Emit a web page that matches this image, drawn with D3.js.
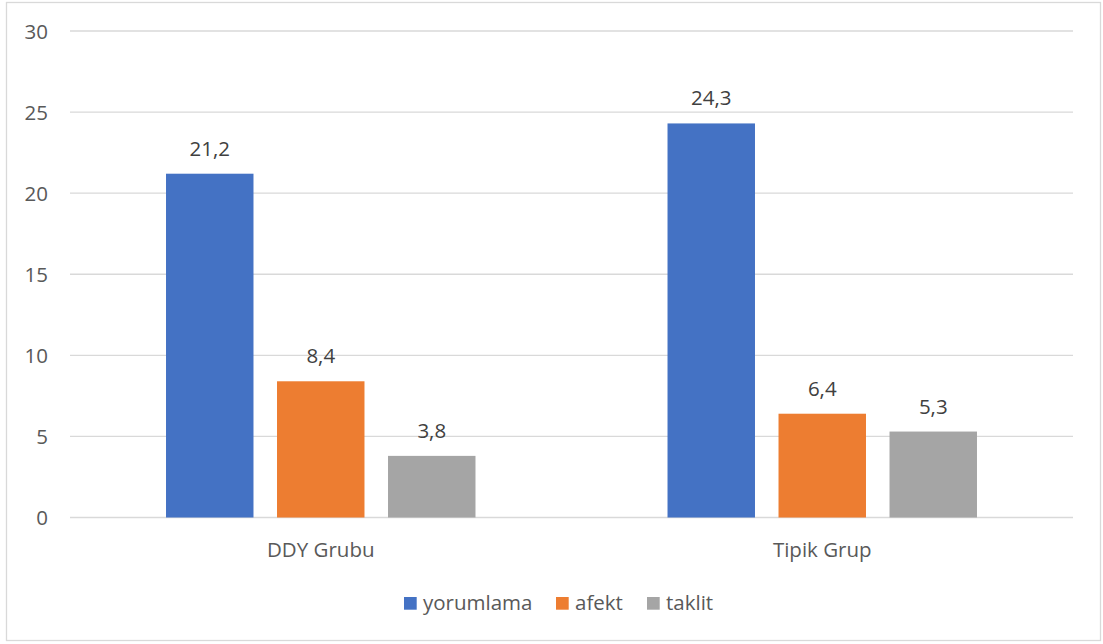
<!DOCTYPE html>
<html>
<head>
<meta charset="utf-8">
<script src="https://cdn.jsdelivr.net/npm/d3@7"></script>
<style>
  html, body { margin: 0; padding: 0; background: #fff; }
  svg { display: block; font-family: "Open Sans", "Noto Sans", sans-serif; }
</style>
</head>
<body>
<svg id="chart" width="1103" height="644"></svg>
<script>
// Groups and series
const categories = ["DDY Grubu", "Tipik Grup"];
const seriesNames = ["yorumlama", "afekt", "taklit"];
const yorumlama = [21.2, 24.3];
const afekt = [8.4, 6.4];
const taklit = [3.8, 5.3];
const yTicks = [0, 5, 10, 15, 20, 25, 30];
const colors = ["#4472c4", "#ed7d31", "#a5a5a5"];

const seriesValues = [yorumlama, afekt, taklit];
const fmt = v => String(v).replace(".", ",");
const FS = 20.5;

const svg = d3.select("#chart");

// outer frame
svg.append("rect")
  .attr("x", 6.5).attr("y", 2.5)
  .attr("width", 1094).attr("height", 638)
  .attr("fill", "#fff").attr("stroke", "#d9d9d9").attr("stroke-width", 1.3);

const plot = { left: 70, right: 1073, top: 31, bottom: 517.5 };

const y = d3.scaleLinear().domain([0, 30]).range([plot.bottom, plot.top]);
const x0 = d3.scaleBand().domain(categories).range([plot.left, plot.right]).padding(0);
const x1 = d3.scaleBand().domain(seriesNames).range([0, x0.bandwidth()])
  .paddingInner(0.212).paddingOuter(0.865);

// gridlines
svg.append("g").selectAll("line").data(yTicks).join("line")
  .attr("x1", plot.left).attr("x2", plot.right)
  .attr("y1", d => y(d)).attr("y2", d => y(d))
  .attr("stroke", "#d9d9d9").attr("stroke-width", 1.3);

// y axis labels
const yAxis = d3.axisLeft(y).tickValues(yTicks).tickSize(0).tickPadding(0);
const gy = svg.append("g").attr("transform", `translate(${plot.left - 22},0)`).call(yAxis);
gy.select(".domain").remove();
gy.selectAll("text")
  .attr("font-family", "'Open Sans', 'Noto Sans', sans-serif")
  .attr("font-size", FS).attr("fill", "#595959").attr("dy", "0.35em");

// category labels
const xAxis = d3.axisBottom(x0).tickSize(0).tickPadding(0);
const gx = svg.append("g").attr("transform", `translate(0,${plot.bottom + 39})`).call(xAxis);
gx.select(".domain").remove();
gx.selectAll("text")
  .attr("font-family", "'Open Sans', 'Noto Sans', sans-serif")
  .attr("font-size", FS).attr("fill", "#595959").attr("dy", 0);

// bars
const rows = [];
categories.forEach((c, ci) => {
  seriesNames.forEach((s, si) => {
    rows.push({ cat: c, series: s, value: seriesValues[si][ci], color: colors[si] });
  });
});

svg.append("g").selectAll("rect").data(rows).join("rect")
  .attr("x", d => x0(d.cat) + x1(d.series))
  .attr("y", d => y(d.value))
  .attr("width", x1.bandwidth())
  .attr("height", d => y(0) - y(d.value))
  .attr("fill", d => d.color);

// value labels
svg.append("g").selectAll("text").data(rows).join("text")
  .attr("x", d => x0(d.cat) + x1(d.series) + x1.bandwidth() / 2)
  .attr("y", d => y(d.value) - 18)
  .attr("text-anchor", "middle")
  .attr("font-size", FS).attr("fill", "#404040")
  .text(d => fmt(d.value));

// legend
const legendItems = [
  { name: "yorumlama", color: colors[0], x: 404 },
  { name: "afekt", color: colors[1], x: 556 },
  { name: "taklit", color: colors[2], x: 647 }
];
const lg = svg.append("g");
legendItems.forEach(it => {
  lg.append("rect").attr("x", it.x).attr("y", 597).attr("width", 12.7).attr("height", 12.7).attr("fill", it.color);
  lg.append("text").attr("x", it.x + 19).attr("y", 609.5)
    .attr("font-size", FS).attr("fill", "#595959").text(it.name);
});
</script>
</body>
</html>
